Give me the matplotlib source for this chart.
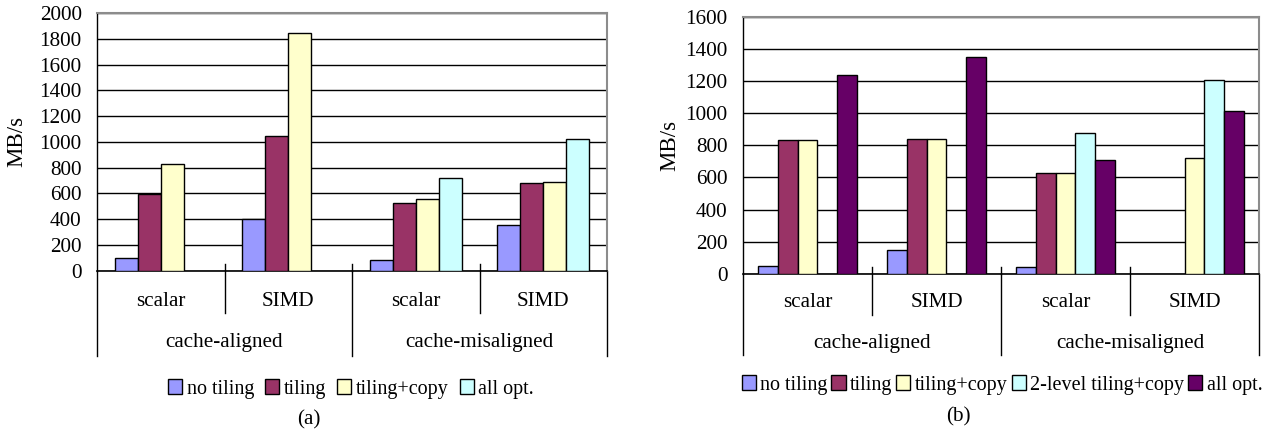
import numpy as np
import matplotlib
matplotlib.use("Agg")
import matplotlib.pyplot as plt
from matplotlib.patches import Patch
from matplotlib.lines import Line2D
from matplotlib.transforms import blended_transform_factory

plt.rcParams['font.family'] = ['Liberation Serif', 'DejaVu Serif']

# ---- data -------------------------------------------------------------
sub_labels = ["scalar", "SIMD", "scalar", "SIMD"]
group_labels = ["cache-aligned", "cache-misaligned"]

series_a = ["no tiling", "tiling", "tiling+copy", "all opt."]
no_tiling_a = [95, 400, 86, 356]
tiling_a = [597, 1047, 527, 678]
tiling_copy_a = [826, 1841, 558, 688]
all_opt_a = [None, None, 722, 1023]
yticks_a = [0, 200, 400, 600, 800, 1000, 1200, 1400, 1600, 1800, 2000]

series_b = ["no tiling", "tiling", "tiling+copy", "2-level tiling+copy", "all opt."]
no_tiling_b = [45, 148, 42, None]
tiling_b = [831, 839, 630, None]
tiling_copy_b = [831, 839, 630, 721]
two_level_b = [None, None, 875, 1209]
all_opt_b = [1241, 1351, 707, 1014]
yticks_b = [0, 200, 400, 600, 800, 1000, 1200, 1400, 1600]

colors_a = ["#9999FF", "#993366", "#FFFFCC", "#CCFFFF"]
colors_b = ["#9999FF", "#993366", "#FFFFCC", "#CCFFFF", "#660066"]

W, H = 1266, 437
FS = 15.2      # axis / category text
FS_LEG = 14.5  # legend text
fig = plt.figure(figsize=(W / 100, H / 100), dpi=100)


def px_axes(left, top, right, bottom):
    return fig.add_axes([left / W, 1 - bottom / H, (right - left) / W, (bottom - top) / H])


def draw_panel(ax, series_names, values, colors, bar_w, yticks, ymax,
               sub_div_depth, grp_div_depth, sub_y, grp_y):
    n = len(series_names)
    margin = (1 - n * bar_w) / 2
    for j, (vals, col) in enumerate(zip(values, colors)):
        for i, v in enumerate(vals):
            if v is None:
                continue
            ax.bar(i + margin + j * bar_w, v, width=bar_w, align='edge',
                   color=col, edgecolor='black', linewidth=1.0, zorder=3)
    ax.set_xlim(0, 4)
    ax.set_ylim(0, ymax)
    ax.set_yticks(yticks)
    ax.set_yticklabels([str(t) for t in yticks], fontsize=FS)
    ax.tick_params(axis='y', length=0, pad=11)
    ax.set_xticks([])
    ax.yaxis.grid(True, color='black', linewidth=1.0, zorder=0)
    ax.set_axisbelow(True)
    ax.spines['top'].set_color('#8c8c8c')
    ax.spines['right'].set_color('#8c8c8c')
    ax.spines['top'].set_linewidth(1.5)
    ax.spines['right'].set_linewidth(1.5)
    ax.spines['left'].set_linewidth(1.0)
    ax.spines['bottom'].set_linewidth(1.2)
    ax.set_ylabel("MB/s", fontsize=16.5)

    tr = blended_transform_factory(ax.transData, ax.transAxes)
    # category separators below the axis
    for x in [0, 2, 4]:
        ax.add_line(Line2D([x, x], [0, grp_div_depth], transform=tr,
                           color='black', lw=1.0, clip_on=False))
    for x in [1, 3]:
        ax.add_line(Line2D([x, x], [0.027, sub_div_depth], transform=tr,
                           color='black', lw=1.0, clip_on=False))
    ax.add_line(Line2D([2, 2], [0, 0.027], transform=tr,
                       color='black', lw=1.0, clip_on=False))
    for i, lab in enumerate(sub_labels):
        ax.text(i + 0.5, sub_y, lab, transform=tr, ha='center', va='center',
                fontsize=FS)
    for g, lab in enumerate(group_labels):
        ax.text(2 * g + 1, grp_y, lab, transform=tr, ha='center', va='center',
                fontsize=FS)


ax_a = px_axes(97, 13, 607, 270.7)
draw_panel(ax_a, series_a, [no_tiling_a, tiling_a, tiling_copy_a, all_opt_a],
           colors_a, 0.18, yticks_a, 2000,
           sub_div_depth=-0.163, grp_div_depth=-0.33, sub_y=-0.12, grp_y=-0.28)
ax_a.yaxis.set_label_coords(-0.137, 0.5)

ax_b = px_axes(743, 17, 1259, 273.7)
draw_panel(ax_b, series_b, [no_tiling_b, tiling_b, tiling_copy_b, two_level_b, all_opt_b],
           colors_b, 0.152, yticks_b, 1600,
           sub_div_depth=-0.16, grp_div_depth=-0.316, sub_y=-0.113, grp_y=-0.27)
ax_b.yaxis.set_label_coords(-0.122, 0.5)


def add_legend(names, colors, cx, cy, colspace):
    handles = [Patch(facecolor=c, edgecolor='black', linewidth=1.0) for c in colors]
    fig.legend(handles, names, loc='center', bbox_to_anchor=(cx / W, 1 - cy / H),
               ncol=len(names), frameon=False, fontsize=FS_LEG,
               handlelength=0.7, handleheight=0.7, handletextpad=0.22,
               columnspacing=colspace, borderpad=0)


add_legend(series_a, colors_a, 351, 389, 0.55)
add_legend(series_b, colors_b, 1002, 385, 0.2)

fig.text(309 / W, 1 - 420 / H, "(a)", ha='center', va='center', fontsize=FS)
fig.text(958 / W, 1 - 417 / H, "(b)", ha='center', va='center', fontsize=FS)

fig.savefig("out.png", dpi=100)
